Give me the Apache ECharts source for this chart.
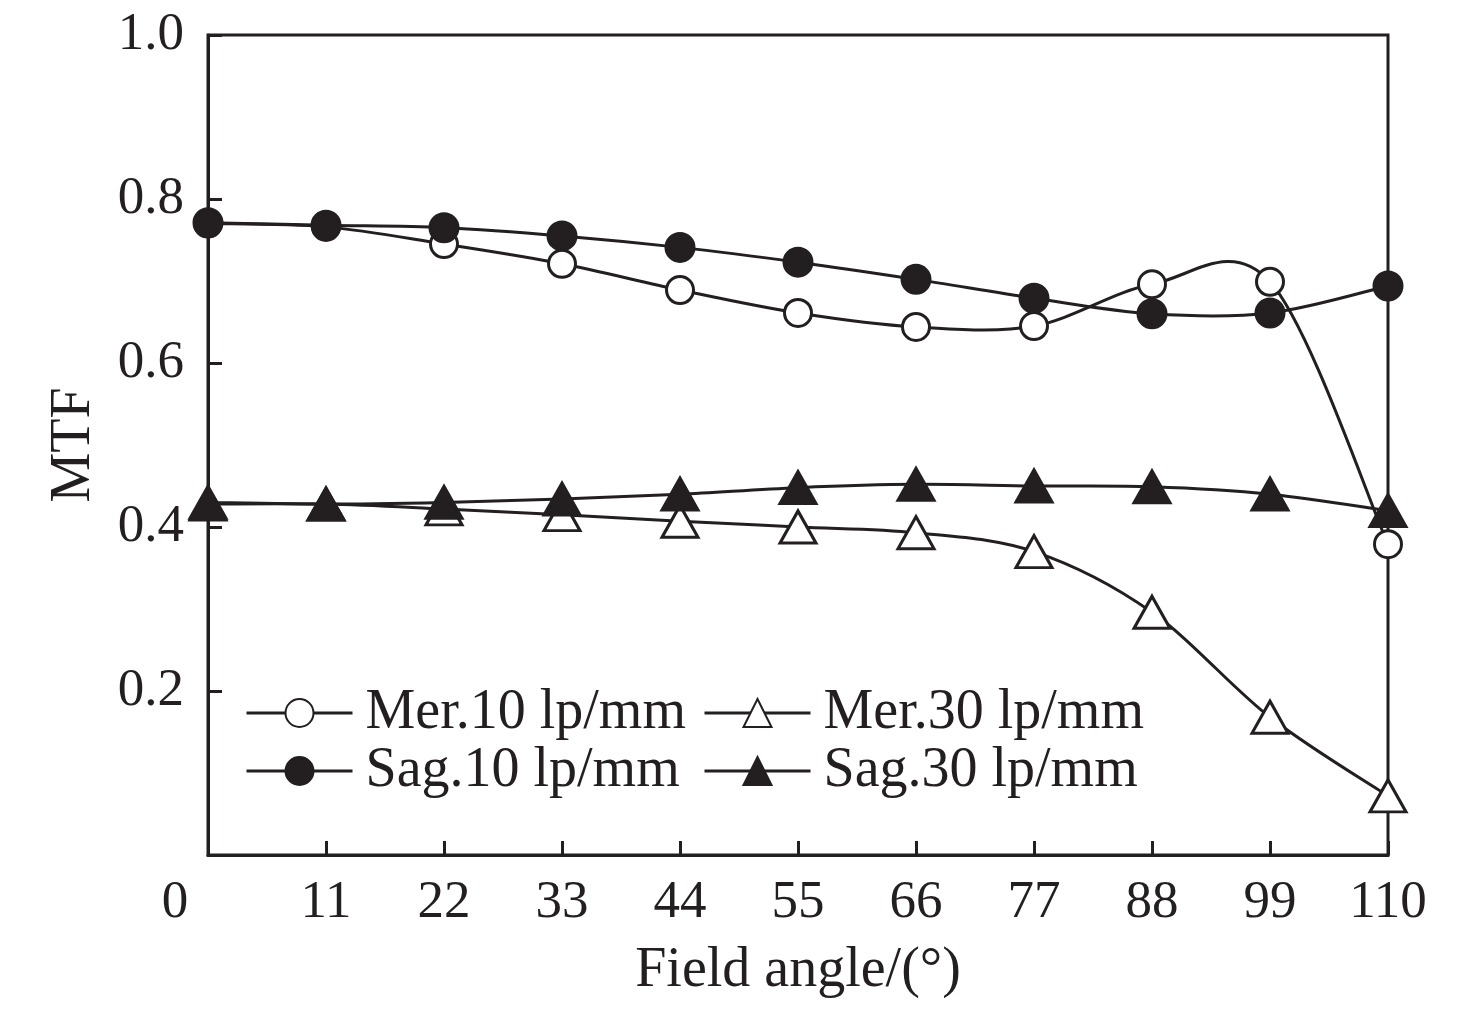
<!DOCTYPE html>
<html>
<head>
<meta charset="utf-8">
<script src="https://cdn.jsdelivr.net/npm/echarts@6/dist/echarts.min.js"></script>
<style>
  html, body { margin: 0; padding: 0; background: #fff; }
  #main { width: 1476px; height: 1010px; }
</style>
</head>
<body>
<div id="main"></div>
<script>
// field angle (deg)
var angles = [0, 11, 22, 33, 44, 55, 66, 77, 88, 99, 110];
// MTF values
var mer10 = [0.770, 0.766, 0.745, 0.721, 0.689, 0.661, 0.644, 0.645, 0.696, 0.699, 0.379];
var sag10 = [0.771, 0.768, 0.765, 0.755, 0.741, 0.723, 0.702, 0.679, 0.660, 0.661, 0.694];
var mer30 = [0.428, 0.428, 0.422, 0.415, 0.407, 0.400, 0.393, 0.370, 0.296, 0.168, 0.072];
var sag30 = [0.430, 0.428, 0.430, 0.434, 0.440, 0.448, 0.452, 0.450, 0.449, 0.440, 0.420];
var names = ['Mer.10 lp/mm', 'Mer.30 lp/mm', 'Sag.10 lp/mm', 'Sag.30 lp/mm'];

var ink = '#231f20';
var font = '"Liberation Serif", "Times New Roman", serif';

function pairs(vals) {
    return angles.map(function (a, i) { return [a, vals[i]]; });
}

// markers (line itself hidden, drawn by the spline below)
function mkSeries(name, vals, symbol, size, filled) {
    return {
        name: name,
        type: 'line',
        data: pairs(vals),
        symbol: symbol,
        symbolSize: size,
        showAllSymbol: true,
        lineStyle: { color: ink, width: 3, opacity: 0 },
        itemStyle: { color: filled ? ink : '#fff', borderColor: ink, borderWidth: 3, opacity: 1 },
        emphasis: { disabled: true },
        z: filled ? 4 : 3
    };
}

// catmull-rom spline like the original plotting program, via the grid's coords
function mkSpline(vals) {
    return {
        type: 'custom',
        coordinateSystem: 'cartesian2d',
        data: pairs(vals),
        encode: { x: 0, y: 1 },
        silent: true,
        z: 1,
        renderItem: function (params, api) {
            var i = params.dataIndex;
            var n = angles.length;
            if (i >= n - 1) return null;
            var p = function (j) {
                j = Math.max(0, Math.min(n - 1, j));
                return api.coord([angles[j], vals[j]]);
            };
            var p0 = p(i - 1), p1 = p(i), p2 = p(i + 1), p3 = p(i + 2);
            return {
                type: 'bezierCurve',
                shape: {
                    x1: p1[0], y1: p1[1], x2: p2[0], y2: p2[1],
                    cpx1: p1[0] + (p2[0] - p0[0]) / 6,
                    cpy1: p1[1] + (p2[1] - p0[1]) / 6,
                    cpx2: p2[0] - (p3[0] - p1[0]) / 6,
                    cpy2: p2[1] - (p3[1] - p1[1]) / 6
                },
                style: { stroke: ink, lineWidth: 3, fill: null }
            };
        }
    };
}

function mkLegend(name, left, top) {
    return {
        data: [name],
        left: left,
        top: top,
        itemWidth: 106,
        itemHeight: 35,
        itemGap: 0,
        lineStyle: { color: ink, width: 3, opacity: 1 },
        textStyle: { fontFamily: font, fontSize: 56, color: ink, padding: [0, 0, 0, 8] },
        selectedMode: false
    };
}

var myChart = echarts.init(document.getElementById('main'));
var option = {
    backgroundColor: '#fff',
    animation: false,
    grid: {
        left: 208, top: 35, right: 88, bottom: 155,
        show: true, borderColor: ink, borderWidth: 3
    },
    legend: [
        mkLegend(names[0], 240, 680),
        mkLegend(names[1], 698, 680),
        mkLegend(names[2], 240, 738),
        mkLegend(names[3], 698, 738)
    ],
    xAxis: {
        type: 'value',
        min: 0, max: 110, interval: 11,
        name: 'Field angle/(°)',
        nameLocation: 'middle',
        nameGap: 88,
        nameTextStyle: { fontFamily: font, fontSize: 56, color: ink },
        axisLine: { lineStyle: { color: ink, width: 3 } },
        axisTick: { inside: true, length: 14, lineStyle: { color: ink, width: 3 } },
        splitLine: { show: false },
        axisLabel: {
            margin: 22,
            fontFamily: font, fontSize: 53, color: ink,
            formatter: function (v) { return v === 0 ? '{z|0}' : String(v); },
            rich: { z: { fontFamily: font, fontSize: 53, color: ink, padding: [0, 66, 0, 0] } }
        }
    },
    yAxis: {
        type: 'value',
        min: 0, max: 1, interval: 0.2,
        name: 'MTF',
        nameLocation: 'middle',
        nameGap: 106,
        nameTextStyle: { fontFamily: font, fontSize: 56, color: ink },
        axisLine: { lineStyle: { color: ink, width: 3 } },
        axisTick: { inside: true, length: 14, lineStyle: { color: ink, width: 3 } },
        splitLine: { show: false },
        axisLabel: {
            margin: 24,
            fontFamily: font, fontSize: 53, color: ink,
            formatter: function (v) { return v === 0 ? '' : v.toFixed(1); }
        }
    },
    series: [
        mkSpline(mer10),
        mkSpline(mer30),
        mkSpline(sag10),
        mkSpline(sag30),
        mkSeries(names[0], mer10, 'circle', 27, false),
        mkSeries(names[1], mer30, 'triangle', [36, 32], false),
        mkSeries(names[2], sag10, 'circle', 28, true),
        mkSeries(names[3], sag30, 'triangle', [36, 32], true)
    ]
};
myChart.setOption(option);
</script>
</body>
</html>
